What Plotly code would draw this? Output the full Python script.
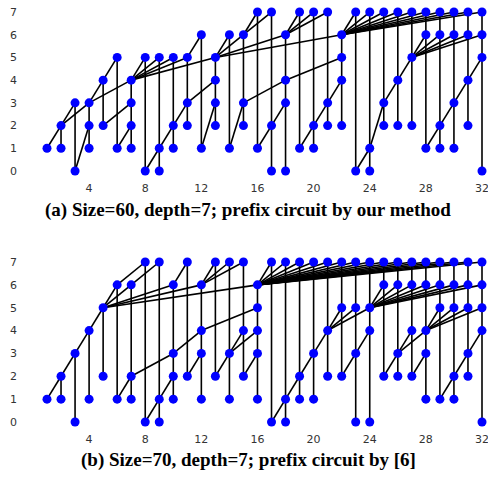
import plotly.graph_objects as go

# ---------------- data ----------------
columns = list(range(1, 33))
level_ticks = list(range(0, 8))
x_ticks = [4, 8, 12, 16, 20, 24, 28, 32]

# (a) our method: level at which each column's input node is drawn
a_input_level = [1, 1, 0, 1, 2, 1, 1, 0, 0, 1, 2, 1, 2, 1, 2, 1,
                 0, 0, 1, 1, 2, 2, 0, 0, 2, 2, 2, 1, 1, 1, 2, 0]
# diagonal edges: (src_col, src_level, dst_col, dst_level)
a_edges = [
    (1, 1, 2, 2), (2, 2, 3, 3), (3, 0, 4, 2), (2, 2, 4, 3), (4, 3, 5, 4),
    (5, 4, 6, 5), (6, 1, 7, 2), (5, 2, 7, 3), (4, 3, 7, 4), (7, 4, 8, 5),
    (8, 0, 9, 1), (7, 4, 9, 5), (9, 1, 10, 2), (7, 4, 10, 5), (10, 2, 11, 3),
    (7, 4, 11, 5), (11, 5, 12, 6), (12, 1, 13, 3), (11, 3, 13, 4), (7, 4, 13, 5),
    (13, 5, 14, 6), (14, 1, 15, 3), (13, 5, 15, 6), (15, 6, 16, 7), (16, 1, 17, 2),
    (15, 6, 17, 7), (17, 2, 18, 3), (15, 3, 18, 4), (13, 5, 18, 6), (18, 6, 19, 7),
    (19, 1, 20, 2), (18, 6, 20, 7), (20, 2, 21, 3), (18, 6, 21, 7), (21, 3, 22, 4),
    (18, 4, 22, 5), (13, 5, 22, 6),
    (22, 6, 23, 7), (22, 6, 24, 7), (22, 6, 25, 7), (22, 6, 26, 7), (22, 6, 27, 7),
    (22, 6, 28, 7), (22, 6, 29, 7), (22, 6, 30, 7), (22, 6, 31, 7), (22, 6, 32, 7),
    (23, 0, 24, 1), (24, 1, 25, 3), (25, 3, 26, 4), (26, 4, 27, 5),
    (27, 5, 28, 6), (27, 5, 29, 6), (27, 5, 30, 6), (27, 5, 31, 6), (27, 5, 32, 6),
    (28, 1, 29, 2), (29, 2, 30, 3), (30, 3, 31, 4), (31, 4, 32, 5),
]

# (b) circuit by [6]
b_input_level = [1, 1, 0, 1, 2, 1, 1, 0, 0, 1, 2, 1, 2, 1, 2, 1,
                 0, 0, 1, 1, 2, 2, 0, 0, 2, 2, 2, 1, 1, 1, 2, 0]
b_edges = [
    (1, 1, 2, 2), (2, 2, 3, 3), (3, 3, 4, 4), (4, 4, 5, 5), (5, 5, 6, 6),
    (6, 1, 7, 2), (5, 5, 7, 6), (6, 6, 8, 7), (8, 0, 9, 1), (7, 6, 9, 7),
    (9, 1, 10, 2), (7, 2, 10, 3), (5, 5, 10, 6), (10, 6, 11, 7), (11, 2, 12, 3),
    (10, 3, 12, 4), (5, 5, 12, 6), (12, 6, 13, 7), (13, 2, 14, 3), (12, 6, 14, 7),
    (14, 3, 15, 4), (12, 6, 15, 7), (15, 2, 16, 3), (14, 3, 16, 4), (12, 4, 16, 5),
    (5, 5, 16, 6),
    (16, 6, 17, 7), (16, 6, 18, 7), (16, 6, 19, 7), (16, 6, 20, 7), (16, 6, 21, 7),
    (16, 6, 22, 7), (16, 6, 23, 7), (16, 6, 24, 7), (16, 6, 25, 7), (16, 6, 26, 7),
    (16, 6, 27, 7), (16, 6, 28, 7), (16, 6, 29, 7), (16, 6, 30, 7), (16, 6, 31, 7),
    (16, 6, 32, 7),
    (17, 0, 18, 1), (18, 1, 19, 2), (19, 2, 20, 3), (20, 3, 21, 4), (21, 4, 22, 5),
    (22, 2, 23, 3), (21, 4, 23, 5), (23, 3, 24, 4), (21, 4, 24, 5),
    (24, 5, 25, 6), (24, 5, 26, 6), (24, 5, 27, 6), (24, 5, 28, 6), (24, 5, 29, 6),
    (24, 5, 30, 6), (24, 5, 31, 6), (24, 5, 32, 6),
    (25, 2, 26, 3), (26, 3, 27, 4), (27, 2, 28, 3), (26, 3, 28, 4),
    (28, 4, 29, 5), (28, 4, 30, 5), (28, 4, 31, 5), (28, 4, 32, 5),
    (29, 1, 30, 2), (30, 2, 31, 3), (31, 3, 32, 4),
]

captions = ["(a) Size=60, depth=7; prefix circuit by our method",
            "(b) Size=70, depth=7; prefix circuit by [6]"]

# ---------------- build ----------------
W, H = 488, 481
ML = 18
fig = go.Figure()


def add_panel(inputs, edges, xa, ya):
    nodes = {c: {lv} for c, lv in zip(columns, inputs)}
    for sc, sl, dc, dl in edges:
        nodes[dc].add(dl)
        nodes[sc].add(sl)
    lx, ly = [], []
    for c in columns:
        lv = sorted(nodes[c])
        if len(lv) > 1:
            lx += [c, c, None]
            ly += [lv[0], lv[-1], None]
    for sc, sl, dc, dl in edges:
        lx += [sc, dc, None]
        ly += [sl, dl, None]
    fig.add_trace(go.Scatter(x=lx, y=ly, mode="lines", xaxis=xa, yaxis=ya,
                             line=dict(color="black", width=1.6),
                             hoverinfo="skip", showlegend=False))
    px, py = [], []
    for c in columns:
        for lv in sorted(nodes[c]):
            px.append(c)
            py.append(lv)
    fig.add_trace(go.Scatter(x=px, y=py, mode="markers", xaxis=xa, yaxis=ya,
                             marker=dict(color="#0000ff", size=9),
                             showlegend=False))


add_panel(a_input_level, a_edges, "x", "y")
add_panel(b_input_level, b_edges, "x2", "y2")

ppu = 435 / 31.0
xr = [1 - (47 - ML) / ppu, 32 + (W - 482) / ppu]


def ydom(top7, bot0):
    ppl = (bot0 - top7) / 7.0
    t = top7 - 0.4 * ppl
    b = bot0 + 0.4 * ppl
    return [1 - b / H, 1 - t / H]


tickfont = dict(family="DejaVu Sans", size=11, color="#333")
xcommon = dict(range=xr, tickvals=x_ticks, showgrid=False, zeroline=False,
               showline=False, ticks="", tickfont=tickfont, domain=[0, 1],
               ticklabeloverflow="allow")
ycommon = dict(range=[-0.4, 7.4], tickvals=level_ticks, showgrid=False,
               zeroline=False, showline=False, ticks="", tickfont=tickfont,
               ticklabeloverflow="allow")

fig.update_layout(
    width=W, height=H, margin=dict(l=ML, r=0, t=0, b=0),
    paper_bgcolor="white", plot_bgcolor="white",
    xaxis=dict(anchor="y", **xcommon),
    xaxis2=dict(anchor="y2", **xcommon),
    yaxis=dict(anchor="x", domain=ydom(12, 171), **ycommon),
    yaxis2=dict(anchor="x2", domain=ydom(262, 422), **ycommon),
)

capfont = dict(family="Liberation Serif", size=19, color="black")
for cap, ypx in zip(captions, [210, 460]):
    fig.add_annotation(text="<b>" + cap + "</b>", xref="paper", yref="paper",
                       x=(248 - ML) / (W - ML), y=1 - ypx / H,
                       xanchor="center", yanchor="middle",
                       showarrow=False, font=capfont)

fig.write_html("out.html")
